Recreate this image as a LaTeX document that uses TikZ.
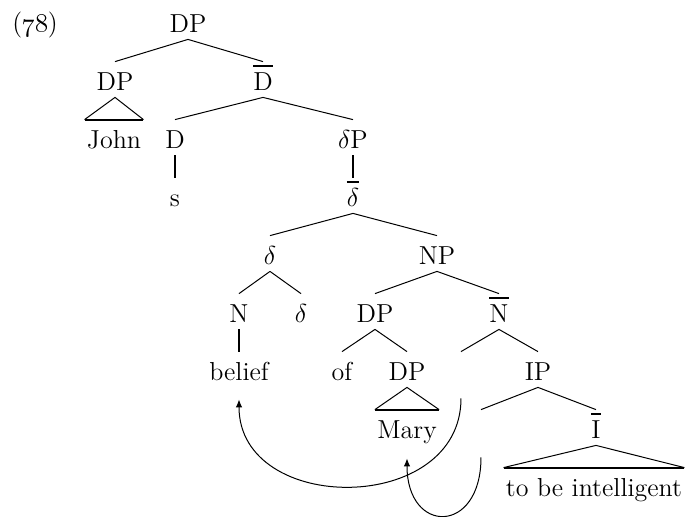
\RequirePackage{fix-cm}
\documentclass[tikz,border=0pt]{standalone}
\usepackage{tikz}
\usetikzlibrary{arrows.meta}

\newcommand{\barred}[1]{\leavevmode\vbox{\hrule height 1.1pt\kern 2.4pt\hbox{#1}}}

\begin{document}
\begin{tikzpicture}[
    x=0.5pt, y=-0.5pt,
    every node/.style={
        font=\fontsize{13}{15}\selectfont,
        anchor=base,
        inner xsep=1pt,
        inner ysep=2pt,
        text height=12pt,
        text depth=1.5pt
    },
    branch/.style={line width=0.5pt},
    unary/.style={line width=1pt},
    roofbase/.style={line width=1pt},
    move/.style={-{Latex[length=4pt,width=3.2pt]}, line width=0.5pt}
]
\useasboundingbox (0,0) rectangle (693,516);

\node[anchor=base west] (ex) at (10,31) {(\oldstylenums{78})};

\node (dp0) at (188,32) {DP};

\node (dp1) at (115,90) {DP};
\node (dbar) at (263,90) {\barred{D}};

\node (john) at (114,148) {John};
\node (d) at (175,148) {D};
\node (deltap) at (353,148) {$\delta$P};

\node (s) at (175,206) {s};
\node (deltabar) at (353,206) {\barred{$\delta$}};

\node (delta1) at (270,264) {$\delta$};
\node (np) at (437,264) {NP};

\node (n) at (239,322) {N};
\node (delta2) at (301,322) {$\delta$};
\node (dp2) at (375,322) {DP};
\node (nbar) at (499,322) {\barred{N}};

\node (belief) at (239,380) {belief};
\node (of) at (342,380) {of};
\node (dp3) at (407,380) {DP};
\node (e1) at (461,380) {};
\node (ip) at (538,380) {IP};

\node (mary) at (407,438) {Mary};
\node (e2) at (481,438) {};
\node (ibar) at (596,438) {\barred{I}};

\node (tbi) at (594,496) {to be intelligent};

% branches
\draw[branch] (dp0.south)--(dp1.north);
\draw[branch] (dp0.south)--(dbar.north);
\draw[branch] (dbar.south)--(d.north);
\draw[branch] (dbar.south)--(deltap.north);
\draw[branch] (deltabar.south)--(delta1.north);
\draw[branch] (deltabar.south)--(np.north);
\draw[branch] (delta1.south)--(n.north);
\draw[branch] (delta1.south)--(delta2.north);
\draw[branch] (np.south)--(dp2.north);
\draw[branch] (np.south)--(nbar.north);
\draw[branch] (dp2.south)--(of.north);
\draw[branch] (dp2.south)--(dp3.north);
\draw[branch] (nbar.south)--(e1.north);
\draw[branch] (nbar.south)--(ip.north);
\draw[branch] (ip.south)--(e2.north);
\draw[branch] (ip.south)--(ibar.north);

% unary branches
\draw[unary] (d.south)--(s.north);
\draw[unary] (deltap.south)--(deltabar.north);
\draw[unary] (n.south)--(belief.north);

% roofs
\draw[branch] (john.north west)--(dp1.south)--(john.north east);
\draw[roofbase] (john.north west)--(john.north east);
\draw[branch] (mary.north west)--(dp3.south)--(mary.north east);
\draw[roofbase] (mary.north west)--(mary.north east);
\draw[branch] (tbi.north west)--(ibar.south)--(tbi.north east);
\draw[roofbase] (tbi.north west)--(tbi.north east);

% movement
\draw[move, shorten <=5.5pt, shorten >=6pt] (e1.south) to[out=-90, in=-90, looseness=1.48] (belief.south);
\draw[move, shorten <=6pt, shorten >=6.5pt] (e2.south) to[out=-90, in=-90, looseness=3.1] (mary.south);

\end{tikzpicture}
\end{document}
